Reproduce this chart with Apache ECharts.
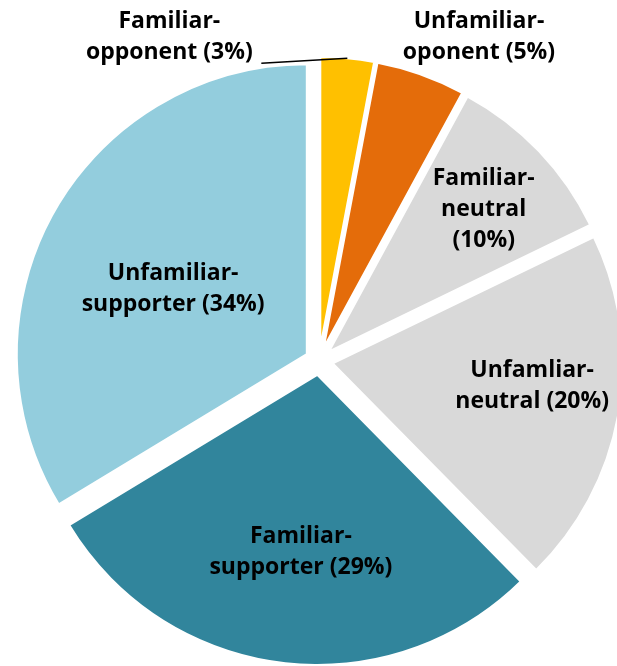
<!DOCTYPE html>
<html>
<head>
<meta charset="utf-8">
<script src="https://cdn.jsdelivr.net/npm/echarts@6/dist/echarts.min.js"></script>
<style>
  html, body { margin: 0; padding: 0; background: #ffffff; }
  #chart { width: 617px; height: 666px; }
</style>
</head>
<body>
<div id="chart"></div>
<script>
// Slices, clockwise from 12 o'clock
const categories = [
  'Familiar-\nopponent',
  'Unfamiliar-\noponent',
  'Familiar-\nneutral\n',
  'Unfamliar-\nneutral',
  'Familiar-\nsupporter',
  'Unfamiliar-\nsupporter'
];
const shares = [3, 5, 10, 20, 29, 34];
const sliceColors = ['#FFC000', '#E46C0A', '#D9D9D9', '#D9D9D9', '#31859C', '#93CDDD'];

// Pie geometry
const pieCenter = [319, 361];
const pieRadius = 290;
const explode = 14;
// In-slice labels: [turn from the slice's mid-angle in degrees, distance from centre as share of radius]
const insideLabelPolar = [null, null, [1.1, 0.771], [-3.1, 0.74], [-1.7, 0.661], [-3.1, 0.561]];
// Outside labels: shift of the text centre from the slice's outer mid-point
const outsideLabelShift = [[-178, -21], [58, -38]];

const chart = echarts.init(document.getElementById('chart'), null, { renderer: 'canvas' });

const pieBase = {
  type: 'pie',
  center: pieCenter,
  radius: pieRadius,
  startAngle: 90,
  clockwise: true,
  selectedMode: 'multiple',
  selectedOffset: explode,
  avoidLabelOverlap: false,
  silent: true,
  emphasis: { disabled: true }
};

// Filled, exploded slices
const slices = Object.assign({}, pieBase, {
  z: 2,
  itemStyle: { borderColor: '#ffffff', borderWidth: 2 },
  select: { itemStyle: { borderColor: '#ffffff', borderWidth: 2 } },
  label: { show: false },
  labelLine: { show: false },
  data: categories.map((name, i) => ({
    name: name,
    value: shares[i],
    selected: true,
    itemStyle: { color: sliceColors[i] }
  }))
});

// Same pie, see-through, carrying the labels and the leader line above the slices
const labels = Object.assign({}, pieBase, {
  z: 3,
  itemStyle: { color: 'rgba(0,0,0,0)', borderWidth: 0 },
  select: { itemStyle: { color: 'rgba(0,0,0,0)', borderWidth: 0 } },
  label: {
    color: '#000000',
    fontFamily: 'Open Sans',
    fontWeight: 'bold',
    fontSize: 23,
    lineHeight: 31,
    align: 'center',
    formatter: p => p.name + (p.name.endsWith('\n') ? '' : ' ') + '(' + p.value + '%)'
  },
  labelLine: { smooth: false, lineStyle: { color: '#000000', width: 1.5 } },
  labelLayout: function (params) {
    const i = params.dataIndex;
    const rect = params.labelRect;
    const ax = params.align === 'left' ? rect.x
      : params.align === 'right' ? rect.x + rect.width : rect.x + rect.width / 2;
    const ay = params.verticalAlign === 'top' ? rect.y
      : params.verticalAlign === 'bottom' ? rect.y + rect.height : rect.y + rect.height / 2;
    const out = { align: 'center', verticalAlign: 'middle' };
    if (insideLabelPolar[i]) {
      const cx = rect.x + rect.width / 2 - pieCenter[0];
      const cy = rect.y + rect.height / 2 - pieCenter[1];
      const len = Math.hypot(cx, cy);
      const ang = Math.atan2(cy, cx) + insideLabelPolar[i][0] * Math.PI / 180;
      const dist = insideLabelPolar[i][1] * pieRadius;
      // the slice's own explode shift is added afterwards, so take it off here
      const tx = pieCenter[0] + dist * Math.cos(ang) - explode * cx / len;
      const ty = pieCenter[1] + dist * Math.sin(ang) - explode * cy / len;
      out.dx = tx - ax;
      out.dy = ty - ay;
      return out;
    }
    const arc = params.labelLinePoints[0];
    out.dx = arc[0] + outsideLabelShift[i][0] - ax;
    out.dy = arc[1] + outsideLabelShift[i][1] - ay;
    if (i === 0) {
      const end = [arc[0] - 86, arc[1] + 5];
      out.labelLinePoints = [arc, [(arc[0] + end[0]) / 2, (arc[1] + end[1]) / 2], end];
    }
    return out;
  },
  data: categories.map((name, i) => ({
    name: name,
    value: shares[i],
    selected: true,
    label: { position: insideLabelPolar[i] ? 'inside' : 'outside' },
    labelLine: { show: i === 0 }
  }))
});

chart.setOption({
  backgroundColor: '#ffffff',
  animation: false,
  series: [slices, labels]
});
</script>
</body>
</html>
